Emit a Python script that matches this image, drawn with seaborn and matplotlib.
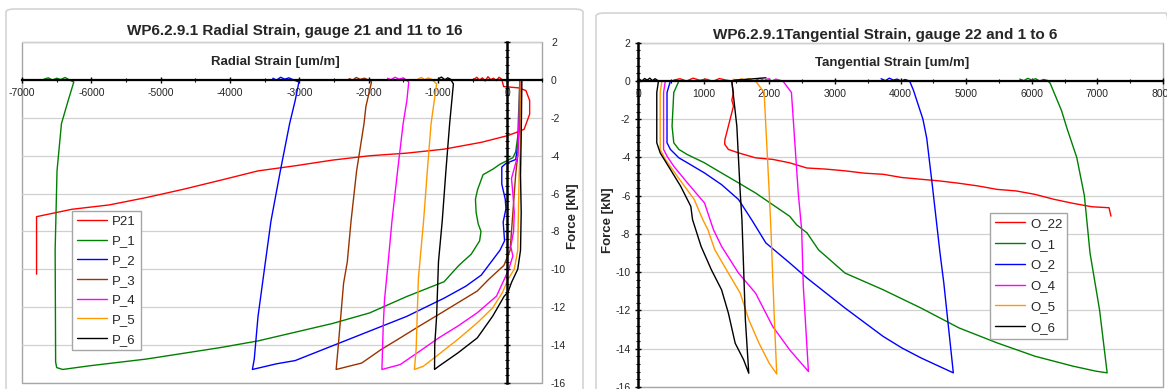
import numpy as np
import pandas as pd
import matplotlib
matplotlib.use("Agg")
import matplotlib.pyplot as plt
import seaborn as sns
from matplotlib.ticker import MultipleLocator
from matplotlib.patches import FancyBboxPatch, Rectangle

sns.set_theme(style="white")
plt.rcParams['font.family'] = ['Liberation Sans', 'DejaVu Sans']
plt.rcParams['axes.unicode_minus'] = False

# ---------------- Left chart: radial strain ----------------
P21_x = [-480, -440, -400, -360, -320, -280, -240, -200, -160, -120, -80, -54, 161, 268, 322, 322, 242, 134, 0,
         -376, -912, -1449, -1986, -2523, -3060, -3596, -4133, -4670, -5207, -5743, -6280, -6790, -6790]
P21_y = [0.05, 0.15, 0.0, 0.12, -0.05, 0.18, 0.02, 0.1, -0.03, 0.15, 0.05, -0.34, -0.41, -0.55, -1.08, -1.8, -2.6, -2.76, -2.94,
         -3.29, -3.65, -3.86, -4.0, -4.23, -4.53, -4.8, -5.29, -5.77, -6.21, -6.6, -6.83, -7.22, -10.26]

P1_x = [-6683, -6620, -6560, -6500, -6440, -6380, -6320, -6253, -6334, -6431, -6495, -6522, -6515, -6500, -6414,
        -6012, -5207, -4133, -3596, -2523, -1986, -1449, -912, -700, -520, -400, -380, -420, -450, -460, -430, -350,
        -205, -107, 0, 80, 120, 150, 160, 170, 180]
P1_y = [0.05, 0.12, 0.0, 0.1, 0.03, 0.14, 0.02, -0.1, -1.08, -2.3, -4.8, -9.0, -14.9, -15.2, -15.3,
        -15.1, -14.75, -14.14, -13.79, -12.87, -12.31, -11.44, -10.66, -9.8, -9.2, -8.5, -8.0, -7.6, -7.0, -6.3, -5.8, -5.0,
        -4.7, -4.45, -4.25, -4.1, -3.8, -3.0, -2.0, -1.0, 0.0]

P2_x = [-3382, -3330, -3270, -3210, -3150, -3090, -3006, -3060, -3140, -3274, -3409, -3489, -3596, -3650, -3677,
        -3328, -3060, -2523, -1986, -1449, -912, -600, -376, -107, -40, -50, -60, -20, -30, -80, -80, -80, -20, 120,
        150, 170, 190, 200]
P2_y = [0.1, 0.0, 0.15, 0.05, 0.12, 0.02, -0.1, -1.08, -2.3, -4.8, -7.45, -9.6, -12.5, -14.75, -15.3,
        -15.0, -14.83, -14.05, -13.27, -12.49, -11.53, -10.9, -10.31, -9.0, -8.5, -8.0, -7.5, -6.8, -6.3, -5.5, -4.9, -4.6, -4.4, -4.2,
        -3.5, -2.5, -1.0, 0.0]

P3_x = [-2281, -2230, -2180, -2120, -2060, -2000, -1959, -2040, -2067, -2174, -2254, -2308, -2362, -2442, -2469,
        -2100, -1822, -1544, -1267, -989, -711, -433, -267, -50, 40, 60, 80, 100, 120, 150, 180, 200]
P3_y = [0.08, 0.0, 0.14, 0.04, 0.1, 0.0, -0.1, -1.4, -2.3, -4.8, -7.45, -9.6, -10.75, -14.2, -15.3,
        -14.96, -14.25, -13.63, -13.0, -12.39, -11.77, -11.15, -10.53, -9.8, -9.0, -8.0, -7.0, -6.0, -5.0, -4.0, -2.0, 0.0]

P4_x = [-1728, -1680, -1620, -1560, -1500, -1422, -1449, -1503, -1583, -1664, -1718, -1771, -1790, -1809,
        -1544, -1267, -989, -711, -433, -156, -44, 20, 80, 50, 90, 100, 80, 60, 150, 170, 180]
P4_y = [0.1, 0.02, 0.15, 0.05, 0.12, -0.1, -1.08, -2.3, -4.8, -7.45, -9.6, -11.6, -13.0, -15.3,
        -15.04, -14.34, -13.63, -13.0, -12.3, -11.42, -10.53, -10.0, -9.3, -8.8, -8.0, -7.0, -6.0, -5.2, -4.0, -2.0, 0.0]

P5_x = [-1288, -1240, -1190, -1140, -1090, -1020, -1100, -1154, -1208, -1261, -1283, -1315, -1340,
        -1211, -989, -711, -433, -211, -72, 11, 100, 150, 160, 170, 190, 200]
P5_y = [0.06, 0.14, 0.02, 0.12, 0.04, -0.2, -2.3, -4.8, -7.45, -9.6, -10.5, -14.2, -15.3,
        -15.13, -14.5, -13.7, -12.83, -12.04, -11.24, -10.53, -10.0, -9.0, -7.0, -5.0, -3.0, 0.0]

P6_x = [-993, -950, -900, -860, -820, -778, -832, -886, -939, -993, -1020, -1047, -1050,
        -989, -711, -433, -211, -44, 11, 60, 150, 190, 200, 190, 200, 210]
P6_y = [0.08, 0.16, 0.02, 0.12, 0.05, -0.2, -2.3, -4.8, -7.45, -9.6, -12.5, -14.0, -15.3,
        -15.13, -14.42, -13.63, -12.48, -11.42, -11.2, -10.7, -10.0, -9.0, -7.0, -5.0, -3.0, 0.0]

# ---------------- Right chart: tangential strain ----------------
O22_x = [545, 640, 740, 840, 940, 1040, 1140, 1240, 1340, 1429, 1440, 1455, 1430, 1455, 1377, 1325, 1320, 1377,
         1532, 1792, 2052, 2312, 2571, 2866, 3155, 3445, 3734, 4023, 4313, 4602, 4892, 5181, 5470, 5760, 6049,
         6339, 6628, 6918, 7178, 7207]
O22_y = [0.05, 0.12, 0.0, 0.15, 0.04, 0.1, -0.02, 0.13, 0.05, 0.0, -0.3, -0.6, -1.0, -1.31, -2.36, -3.06, -3.3, -3.58,
         -3.76, -4.02, -4.1, -4.28, -4.55, -4.61, -4.7, -4.82, -4.88, -5.05, -5.14, -5.23, -5.35, -5.49, -5.67, -5.75, -5.93,
         -6.19, -6.4, -6.58, -6.63, -7.07]

O1_x = [5818, 5880, 5940, 6000, 6060, 6120, 6180, 6240, 6281, 6454, 6541, 6686, 6802, 6888, 7033, 7149,
        6975, 6628, 6049, 5470, 4892, 4313, 3734, 3155, 2750, 2576, 2416, 2312, 2052, 1792, 1532, 1273, 1013, 753,
        623, 545, 519, 545, 623]
O1_y = [0.1, 0.02, 0.14, 0.05, 0.12, 0.0, 0.08, 0.03, -0.12, -1.55, -2.52, -4.0, -6.0, -9.0, -11.97, -15.27,
        -15.18, -14.92, -14.4, -13.7, -12.92, -11.88, -10.92, -10.05, -8.83, -7.95, -7.52, -7.08, -6.47, -5.86, -5.33, -4.81, -4.28, -3.85,
        -3.58, -3.23, -2.36, -0.6, 0.0]

O2_x = [3705, 3770, 3830, 3890, 3950, 4010, 4070, 4139, 4197, 4342, 4400, 4486, 4602, 4660, 4805,
        4313, 4023, 3734, 3155, 2576, 2312, 1948, 1730, 1532, 1273, 1013, 753, 623, 494, 442, 442, 494]
O2_y = [0.12, 0.02, 0.15, 0.05, 0.1, 0.0, 0.08, 0.0, -0.48, -2.0, -3.0, -5.49, -9.0, -10.57, -15.27,
        -14.49, -13.97, -13.36, -11.88, -10.31, -9.52, -8.47, -7.25, -6.2, -5.42, -4.81, -4.28, -4.02, -3.58, -3.23, -0.6, 0.0]

O4_x = [1800, 1860, 1920, 1980, 2040, 2100, 2160, 2208, 2338, 2390, 2442, 2494, 2519, 2597,
        2312, 2052, 1792, 1532, 1273, 1150, 1013, 753, 545, 442, 390, 390, 416]
O4_y = [0.05, 0.14, 0.02, 0.12, 0.0, 0.1, 0.04, 0.0, -0.6, -3.23, -5.86, -7.78, -10.74, -15.2,
        -14.07, -12.84, -11.1, -10.05, -8.65, -7.78, -6.38, -5.33, -4.46, -3.93, -3.58, -0.6, 0.0]

O5_x = [1450, 1510, 1570, 1630, 1690, 1750, 1792, 1922, 1948, 2000, 2026, 2078, 2114,
        2000, 1844, 1688, 1558, 1377, 1169, 1065, 987, 857, 597, 416, 338, 338, 364]
O5_y = [0.1, 0.02, 0.12, 0.05, 0.14, 0.0, 0.0, -0.6, -2.36, -5.86, -7.78, -12.49, -15.33,
        -14.77, -13.72, -12.49, -11.1, -10.05, -8.82, -7.78, -7.25, -6.2, -4.98, -4.1, -3.58, -0.6, 0.0]

O6_x = [1950, 1700, 1480, 1429, 1506, 1558, 1584, 1636, 1688, 1610, 1481, 1377, 1273, 1117, 961, 831, 805, 649,
        494, 338, 286, 286, 312, 260, 220, 180, 140, 100, 60, 20, 0]
O6_y = [0.17, 0.1, 0.05, 0.0, -2.36, -5.86, -7.25, -12.49, -15.29, -14.59, -13.72, -12.14, -10.92, -9.87, -8.65, -7.25, -6.56, -5.5,
        -4.63, -3.76, -3.23, -0.6, 0.0, 0.12, 0.02, 0.15, 0.05, 0.13, 0.0, 0.1, 0.05]

left_names = ["P21", "P_1", "P_2", "P_3", "P_4", "P_5", "P_6"]
left_series = [(P21_x, P21_y), (P1_x, P1_y), (P2_x, P2_y), (P3_x, P3_y), (P4_x, P4_y), (P5_x, P5_y), (P6_x, P6_y)]
right_names = ["O_22", "O_1", "O_2", "O_4", "O_5", "O_6"]
right_series = [(O22_x, O22_y), (O1_x, O1_y), (O2_x, O2_y), (O4_x, O4_y), (O5_x, O5_y), (O6_x, O6_y)]

colors_left = ["#FF0000", "#008000", "#0000FF", "#993300", "#FF00FF", "#FF9900", "#000000"]
colors_right = ["#FF0000", "#008000", "#0000FF", "#FF00FF", "#FF9900", "#000000"]


def build(names, series):
    frames = []
    for n, (xs, ys) in zip(names, series):
        frames.append(pd.DataFrame({"strain": xs, "force": ys, "gauge": n}))
    return pd.concat(frames, ignore_index=True)


dfL = build(left_names, left_series)
dfR = build(right_names, right_series)

W, H = 1167, 389
fig = plt.figure(figsize=(W / 100, H / 100), dpi=100)
fig.patch.set_facecolor("white")

# chart-area frames
fig.patches.append(FancyBboxPatch((6 / W, -0.05), (583 - 6) / W, 1 - 9 / H + 0.05,
                                  boxstyle="round,pad=0,rounding_size=0.008", transform=fig.transFigure,
                                  fc="none", ec="#d4d4d4", lw=1.2, zorder=-5))
fig.patches.append(FancyBboxPatch((596 / W, -0.05), (1175 - 596) / W, 1 - 13 / H + 0.05,
                                  boxstyle="round,pad=0,rounding_size=0.008", transform=fig.transFigure,
                                  fc="none", ec="#d4d4d4", lw=1.2, zorder=-5))

axL = fig.add_axes([22 / W, (H - 382.7) / H, 520 / W, 340.4 / H])
axR = fig.add_axes([638 / W, (H - 386.8) / H, 525 / W, 344 / H])

tick_fs = 7.5
lab_fs = 9.5
lw = 1.0

for ax, df, names, cols in [(axL, dfL, left_names, colors_left), (axR, dfR, right_names, colors_right)]:
    ax.set_facecolor("none")
    sns.lineplot(data=df, x="strain", y="force", hue="gauge", hue_order=names,
                 palette=dict(zip(names, cols)), sort=False, estimator=None,
                 linewidth=lw, ax=ax)
    ax.set_ylim(-16, 2)
    ax.yaxis.set_major_locator(MultipleLocator(2))
    ax.yaxis.set_minor_locator(MultipleLocator(0.4))
    ax.xaxis.set_major_locator(MultipleLocator(1000))
    ax.xaxis.set_minor_locator(MultipleLocator(500))
    ax.grid(axis="y", which="major", color="#d0d0d0", lw=0.9)
    ax.grid(axis="x", visible=False)
    ax.set_axisbelow(True)
    ax.spines["top"].set_visible(False)
    ax.spines["right"].set_visible(False)
    ax.spines["bottom"].set_position(("data", 0))
    ax.spines["bottom"].set_linewidth(1.6)
    ax.spines["bottom"].set_color("black")
    ax.spines["left"].set_linewidth(1.8)
    ax.spines["left"].set_color("black")
    ax.spines["bottom"].set_zorder(3)
    ax.spines["left"].set_zorder(3)
    ax.add_patch(Rectangle((0, 0), 1, 1, transform=ax.transAxes, fill=False,
                           ec="#a6a6a6", lw=1.0, clip_on=False, zorder=0.5))
    ax.tick_params(axis="x", which="major", direction="inout", length=4, width=1, color="black",
                   labelsize=tick_fs, pad=4, bottom=True)
    ax.tick_params(axis="x", which="minor", direction="inout", length=3, width=0.8, color="black", bottom=True)
    ax.tick_params(axis="y", which="major", direction="inout", length=5, width=1, color="black", left=True)
    ax.tick_params(axis="y", which="minor", direction="inout", length=3, width=0.8, color="black", left=True)
    ax.get_legend().remove()

# ----- left chart specifics -----
axL.set_xlim(-7000, 500)
axL.spines["left"].set_position(("data", 0))
axL.tick_params(axis="y", labelleft=False)
axL.set_xlabel("Radial Strain [um/m]", fontweight="bold", fontsize=lab_fs, va="center")
axL.xaxis.set_label_coords((275 - 22) / 520, (382.7 - 62) / 340.4)
axL.set_ylabel("")

axL2 = axL.twinx()
axL2.set_ylim(-16, 2)
axL2.yaxis.set_major_locator(MultipleLocator(2))
axL2.tick_params(axis="y", length=0, labelsize=tick_fs, pad=6.5)
for s in axL2.spines.values():
    s.set_visible(False)
axL2.grid(False)
axL2.set_ylabel("Force [kN]", fontweight="bold", fontsize=lab_fs, va="center", ha="center")
axL2.yaxis.set_label_coords((573 - 22) / 520, (382.7 - 216) / 340.4)

hL = [plt.Line2D([], [], color=c, lw=lw) for c in colors_left]
axL.legend(hL, left_names, loc="upper left", bbox_to_anchor=((72 - 22) / 520, (382.7 - 211) / 340.4),
           borderaxespad=0, frameon=True, fancybox=False, edgecolor="#a6a6a6", framealpha=1,
           fontsize=9.5, handlelength=2.3, handletextpad=0.4, labelspacing=0.56, borderpad=0.35)

fig.text(295 / W, 1 - 31 / H, "WP6.2.9.1 Radial Strain, gauge 21 and 11 to 16",
         ha="center", va="center", fontweight="bold", fontsize=11)

# ----- right chart specifics -----
axR.set_xlim(0, 8000)
axR.tick_params(axis="y", labelsize=tick_fs, pad=3)
axR.set_xlabel("Tangential Strain [um/m]", fontweight="bold", fontsize=lab_fs, va="center")
axR.xaxis.set_label_coords((892 - 638) / 525, (386.8 - 63) / 344)
axR.set_ylabel("Force [kN]", fontweight="bold", fontsize=lab_fs, va="center", ha="center")
axR.yaxis.set_label_coords((608 - 638) / 525, (386.8 - 220) / 344)

hR = [plt.Line2D([], [], color=c, lw=lw) for c in colors_right]
axR.legend(hR, right_names, loc="upper left", bbox_to_anchor=((990 - 638) / 525, (386.8 - 213) / 344),
           borderaxespad=0, frameon=True, fancybox=False, edgecolor="#a6a6a6", framealpha=1,
           fontsize=9.5, handlelength=2.3, handletextpad=0.4, labelspacing=0.65, borderpad=0.35)

fig.text(885 / W, 1 - 35 / H, "WP6.2.9.1Tangential Strain, gauge 22 and 1 to 6",
         ha="center", va="center", fontweight="bold", fontsize=11)

fig.savefig("out.png", dpi=100, facecolor="white")
